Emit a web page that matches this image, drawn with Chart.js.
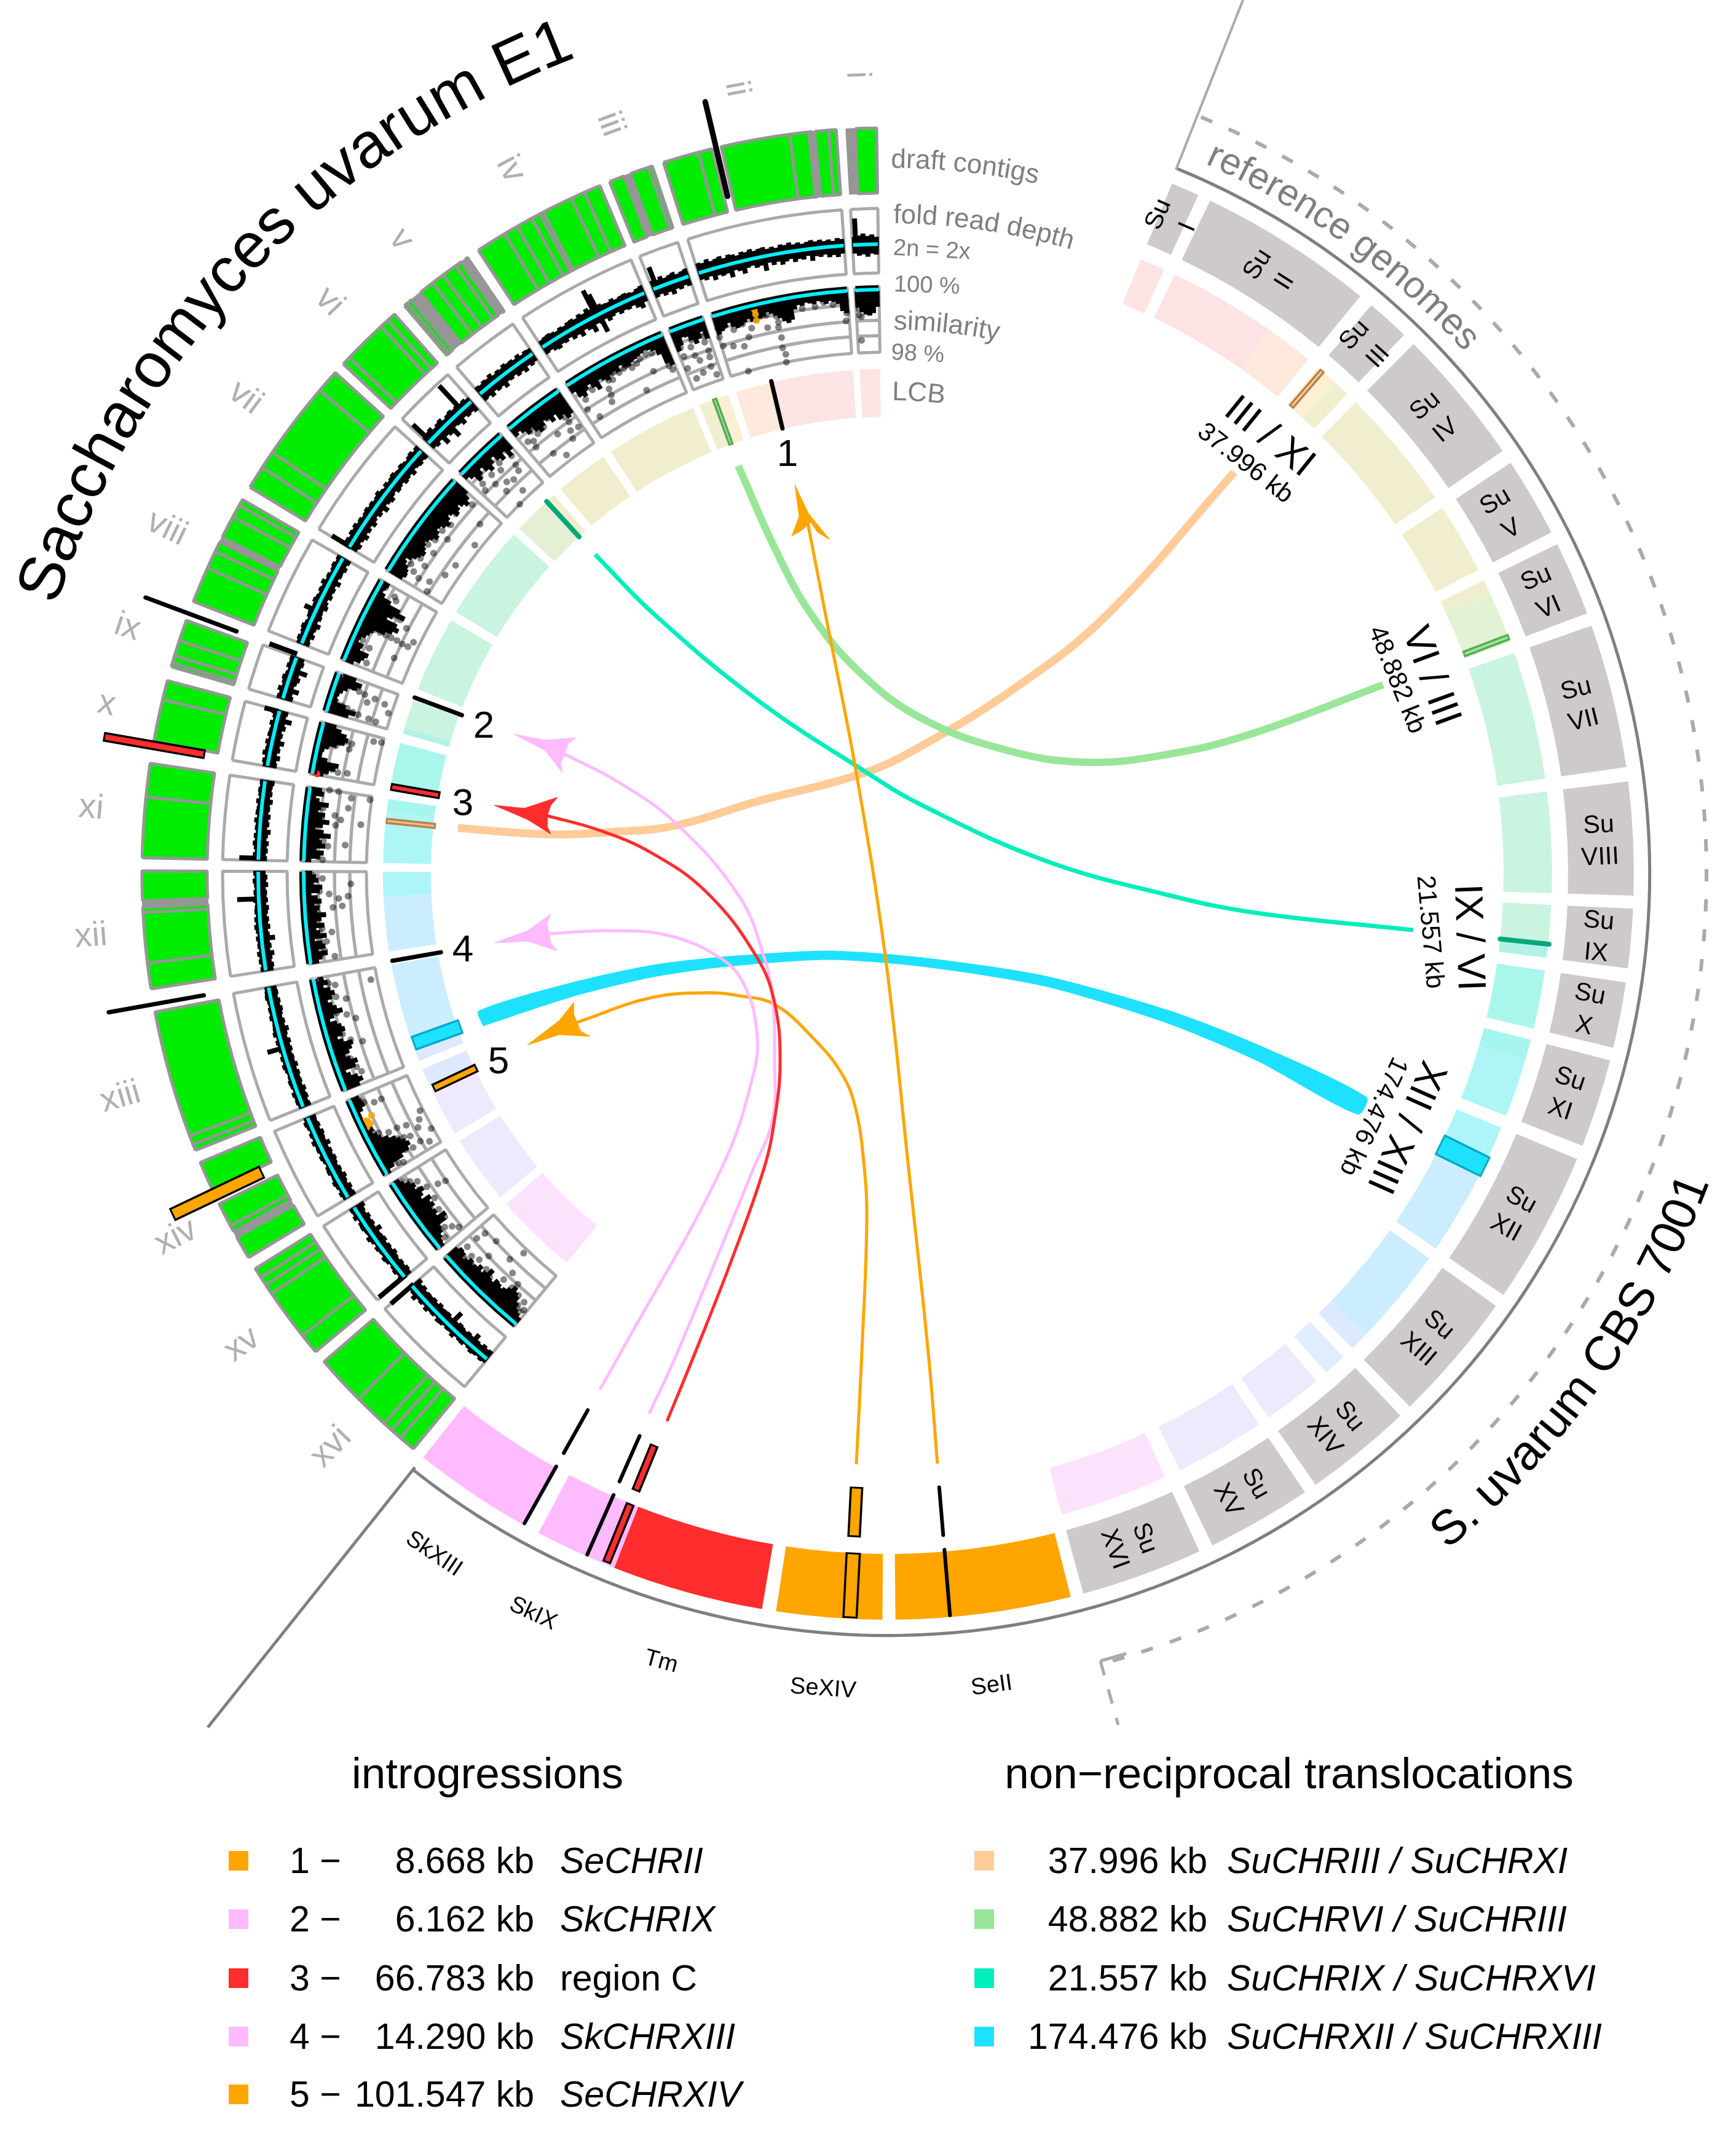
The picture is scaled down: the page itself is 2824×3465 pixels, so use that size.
<!DOCTYPE html>
<html>
<head>
<meta charset="utf-8">
<title>S. uvarum circos</title>
<script src="https://cdn.jsdelivr.net/npm/chart.js@4/dist/chart.umd.js"></script>
<style>
  html, body { margin: 0; background: #fff; }
  #page { position: relative; width: 2824px; height: 3465px; overflow: hidden; }
  canvas, svg { position: absolute; }
  svg { left: 0; top: 0; font-family: "Liberation Sans", Arial, sans-serif; }
</style>
</head>
<body>
<div id="page">
  <canvas id="left-rings" width="2670" height="2670" style="left:109px;top:86px"></canvas>
  <canvas id="right-rings" width="2670" height="2670" style="left:109px;top:86px"></canvas>
  <canvas id="marks" width="2824" height="3465" style="left:0;top:0"></canvas>
  <canvas id="track-lines" width="2670" height="2670" style="left:109px;top:86px"></canvas>
  <svg id="labels" width="2824" height="3465"></svg>
</div>
<script>
// ---- chromosomes, degrees clockwise from 12 o'clock
const leftNames = ["i","ii","iii","iv","v","vi","vii","viii","ix","x","xi","xii","xiii","xiv","xv","xvi"];
const leftFrom = [-3.2,-17.5,-21.9,-33.3,-40.4,-46.9,-58.8,-68.6,-73.9,-80.2,-88.8,-98.9,-111.8,-121,-129.9,-140.5];
const leftTo = [-0.85,-3.96,-18.4,-22.7,-34.3,-41.4,-47.8,-59.9,-69.9,-75,-81.5,-89.8,-100.4,-112.8,-122,-130.9];

const rightNames = ["I","II","III","IV","V","VI","VII","VIII","IX","X","XI","XII","XIII","XIV","XV","XVI"];
const rightFrom = [22.4,25.6,40.4,44.8,56.6,63.8,70.6,82.9,92.7,98.4,104.5,112.5,125.4,136.6,146,155.3];
const rightTo = [24.6,39.3,43.8,55.5,62.8,69.6,81.8,91.7,97.3,103.5,111.4,124.4,135.6,145,154.2,164.8];

const donorFrom = [165.8,180.4,189.7,201.5,209.2];
const donorTo = [179.4,188.6,201.5,207.9,218.5];
const donorColors = ["#ffa500","#ffa500","#ff2d2d","#ffbbff","#ffbbff"];

// draft contigs: thin dividers, wide grey blocks, white holes per chromosome
const contigCuts = [
  [],[-4.55,-6.07,-7.55,-14.7],[-18.7],[-24,-25.1,-27.5,-27.8,-28.5,-29.8,-30.9],
  [-35.4,-36.6,-37.6,-40.1],[-42.1,-42.8,-46.2],[-49.6,-55.6,-57],[-60.4,-61.4,-64.4,-65.8],
  [-71.8,-73,-73.6],[-76.5],[-84.1],[-93,-96.9],[-110.6,-111.3],[-118.2],[-122.8,-123.5,-124.3,-128.3],[-134.8,-137.5,-138.3,-139.2]
];
const contigGray = [
  [[-3.2,-2.5]],[[-5.85,-5.64]],[[-20.7,-20.2]],[],[[-34.9,-34.5],[-39.7,-38.8]],[],[],[[-63.6,-63.2]],
  [],[],[],[[-92.6,-92.1]],[],[[-119.2,-118.7]],[],[]
];
const contigWhite = [
  [],[[-13.6,-12.9]],[],[],[],[],[],[],[[-70.15,-69.9]],[[-80.2,-79.8]],[],[],[[-100.7,-100.4]],[[-116.3,-115.1]],[],[]
];

// pale synteny ring
const lcbLeft = [
  [-3.2,-0.85,"#fde4e4"],[-13.3,-3.96,"#fde4e4"],[-17.5,-13.3,"#fee9dc"],[-20,-18.4,"#fcefd2"],[-21.9,-20,"#f0efd0"],
  [-33.3,-22.7,"#f1eed0"],[-40.4,-34.3,"#f1eed0"],[-42.5,-41.4,"#f1eed0"],[-46.9,-42.5,"#e3f0d4"],[-58.8,-47.8,"#c9f4df"],
  [-68.6,-59.9,"#c9f4df"],[-73.2,-69.9,"#c9f4df"],[-73.9,-73.2,"#b0f3e6"],[-80.2,-75,"#aaf6ec"],[-83,-81.5,"#a6f5ef"],
  [-88.8,-83,"#aef5f6"],[-92.6,-89.8,"#aef5f9"],[-98.9,-92.6,"#ccedff"],[-110.7,-100.4,"#ccedff"],[-111.8,-110.7,"#dfe9fd"],
  [-115,-112.8,"#dfe9fd"],[-121,-115,"#efe9fd"],[-129.9,-122,"#efe9fd"],[-140.5,-130.9,"#fce3fd"]
];
const lcbRight = [
  [22.4,24.6,"#fde4e4"],[25.6,35.1,"#fde4e4"],[35.1,39.3,"#fee9dc"],[40.4,42.3,"#fcefd2"],[42.3,43.8,"#f0f0d0"],
  [44.8,55.5,"#f1eed0"],[56.6,62.8,"#f1eed0"],[63.8,65,"#f1eed0"],[65,69.6,"#e3f2d4"],[70.6,81.8,"#c9f4df"],
  [82.9,91.7,"#c9f4df"],[92.7,96,"#c9f4df"],[96,97.3,"#b0f3e6"],[98.4,103.5,"#aaf6ec"],[104.5,106.3,"#a6f5ef"],
  [106.3,111.4,"#aef5f6"],[112.5,117,"#aef5f9"],[117,124.4,"#ccedff"],[125.4,134,"#ccedff"],[134,135.6,"#dfe9fd"],
  [136.7,138.7,"#dfedff"],[139.8,145,"#efe9fd"],[146,153.9,"#efe9fd"],[155.3,164.8,"#fce3fd"]
];

// fold read depth, per chromosome: band above / below the 2n line (0.02x units)
const depthHi = [
  [13,15,18,14,16,12],
  [16,14,18,13,15,17,12,16,14,11,15,13,16,12,14,15,11,13,10,14,12,15,11,13,10,12,14,11,13,10,12,9,13,11],
  [14,12,16,11,13,15,10,12,14],
  [11,13,14,12,10,13,11,14,15,12,16,13,18,14,13,15,12,11,14,10,12,13,11,9,12,14],
  [13,11,14,12,16,10,13,11,15,12,13,10,14,9,12,11],
  [12,14,16,10,13,15,9,12,14,11,13,10,12,9],
  [10,12,9,13,11,14,10,12,9,11,13,10,12,9,11,14,10,8,12,9,11,13,10,9,12,10,8,11,13,9,12],
  [9,11,8,10,12,9,7,10,11,8,9,12,10,8,11,9,13,8,10,7,9,11,8,10],
  [11,9,13,8,10,12,9,7,11,9,10],
  [8,10,7,12,9,8,11,7,10,9,8,11,7,9,12],
  [7,9,6,8,10,7,9,6,8,7,10,6,9,8,7,10,6,8,9,7,8],
  [8,6,9,7,10,6,8,7,9,6,8,10,7,9,6,8,7,6,9,7,8,6,7,9,6,8],
  [7,9,8,10,6,8,9,7,6,8,10,7,9,6,8,7,9,6,10,8,7,6,9,7,8,6,7,9,8,7],
  [8,10,7,9,11,8,7,10,9,6,8,10,7,9,8,11,7,9,6,8,10,7],
  [9,7,10,8,6,9,11,7,8,10,6,9,12,7,8,10,9,6,11,8,9],
  [8,10,7,9,11,8,6,10,9,7,12,8,9,7,10,11,6,9,8,12,7,10,8,14,9,7]
];
const depthLo = [
  [14,18,16,20,15,17],
  [12,15,11,19,13,16,14,22,12,15,21,13,11,16,14,24,12,17,13,19,15,12,18,14,16,11,20,13,15,12,17,14,18,13],
  [15,12,17,14,20,13,16,12,15],
  [14,12,16,18,13,15,11,17,14,20,12,16,24,13,15,12,18,14,11,16,13,15,12,18,22,14],
  [15,13,18,12,16,14,20,13,15,12,17,14,19,12,16,13],
  [13,16,12,24,14,18,28,13,15,20,12,16,14,18],
  [14,17,12,15,19,13,16,12,18,14,11,16,13,20,12,15,18,13,11,16,14,12,17,15,13,18,12,14,16,13,15],
  [13,11,16,12,14,18,11,15,13,12,17,14,11,16,13,15,12,18,11,14,13,16,12,15],
  [16,13,22,12,15,18,14,26,13,16,14],
  [15,13,18,12,16,14,20,13,15,12,17,14,24,13,15],
  [14,12,15,13,16,12,14,18,12,15,13,16,12,14,13,17,12,15,13,14,16],
  [13,15,12,14,18,12,15,13,22,14,12,16,13,15,12,14,16,12,15,13,14,12,16,13,15,12],
  [14,12,15,13,16,12,14,13,15,12,16,13,14,12,15,13,16,12,14,18,13,15,12,14,16,13,15,12,14,13],
  [15,13,16,12,14,17,13,15,12,14,16,13,15,12,18,13,14,16,12,15,13,14],
  [14,16,13,15,12,14,17,13,15,12,16,14,13,20,12,15,13,16,12,14,18],
  [15,13,16,12,14,22,13,15,12,14,16,13,28,12,15,14,13,16,12,15,13,14,12,16,13,18]
];
// isolated spikes: angle, outer radius, inner radius
const depthSpikes = [
  [-2.9,1067,1025],[-21.5,1060,1025],[-27.6,1070,1020],[-27.3,1060,992],[-42.6,1078,1030],[-46.6,1063,1025],
  [-58.7,1058,1022],[-65.3,1044,1025],[-69.6,1073,1025],[-75.1,1049,1025],[-88.6,1055,1025],[-92.3,1059,1025],
  [-106.1,1050,1025],[-129.8,1077,1020],[-130.9,1069,1020]
];

// similarity: solid mass of overlapping points under the 100 % line, px deep per bin
const simMass = [
  [26,34,38,40,36,26],
  [30,26,22,16,24,28,26,22,18,24,26,22,20,14,18,22,28,34,38,34,18,12,14,10,12,14,10,12,16,12,14,18,30,34],
  [34,26,14,16,24,32,26,16,30],
  [14,26,30,22,16,24,32,18,22,26,20,18,22,14,20,22,18,16,14,12,10,12,16,26,44,50],
  [16,12,18,26,20,30,36,30,22,26,34,26,38,34,44,40],
  [10,16,28,22,14,24,30,22,14,24,30,20,34,26],
  [24,28,26,22,16,12,20,26,30,34,30,26,22,26,30,36,32,26,28,34,38,32,26,30,38,34,28,34,40,34,26],
  [14,24,28,32,16,18,8,10,16,20,24,42,52,60,54,34,42,60,48,28,14,8,10,12],
  [34,44,26,10,8,10,14,20,34,40,28],
  [16,24,34,38,18,8,8,10,16,28,40,44,40,30,20],
  [10,24,30,18,32,26,22,40,28,14,26,36,24,28,16,20,32,16,10,22,18],
  [12,18,28,14,26,22,10,30,20,14,28,16,24,32,18,22,14,26,20,10,24,28,14,22,18,12],
  [24,32,26,16,10,28,34,24,18,26,32,36,22,14,24,30,26,20,10,18,34,26,20,14,22,28,22,12,20,14],
  [6,16,36,50,56,52,46,40,30,20,16,10,14,8,6,4,6,6,12,18,16,14],
  [8,10,14,20,22,36,42,28,32,28,36,32,38,24,30,36,24,28,22,14,10],
  [10,14,18,26,34,38,44,36,30,26,30,32,24,26,38,28,22,30,24,20,26,20,16,24,26,20]
];

// similarity points: [angle, percent]
const simI = [[-1.3,99.85],[-1.6,99.75],[-2,99.7],[-2.4,99.65],[-2.7,99.75],[-1.8,99.55],[-2.2,99.5],[-2.6,99.55],[-2.9,99.4],[-2.9,99.2],[-2.7,99.15],[-2.8,98.4],[-1.9,99.35]];
const simII = [[-4.2,99.7],[-4.2,99.3],[-4.3,99.05],[-5.5,99.6],[-6.4,99.7],[-7.3,99.6],[-8.6,99.6],[-9.8,99.65],[-11.2,99.7],[-11.3,99.5],[-11.2,99.3],[-11.3,99.14],[-11.2,98.8],[-11.3,98.47],[-11.1,98.25],[-11.2,98],[-10.3,99.55],[-12.4,99.2],[-12.3,99.6],[-14,99.3],[-14.5,99.05],[-14.8,99.5],[-15.2,98.8],[-15.8,99.4],[-16.3,98.9],[-15.5,98],[-16.6,99.6],[-17.3,99.6],[-17.4,99.3],[-17.3,99]];
const simIII = [[-18.8,99.8],[-18.9,99.5],[-19,99.3],[-18.9,99],[-19,98.8],[-19.2,98.5],[-20.3,99.8],[-20.2,99.5],[-20.5,99.3],[-20.4,99],[-20.1,98.8],[-21.3,99.7],[-21.5,99.4],[-21.5,99.1],[-21.6,98.7],[-20.2,98.4],[-21.1,98.3],[-18.9,98.2]];
const simIV = [[-23,99.85],[-23.1,99.65],[-23.2,99.4],[-23.2,99.2],[-23.3,99],[-23.1,98.85],[-23.6,99.6],[-24.4,99.6],[-25,99.65],[-25.7,99.6],[-26.2,99.5],[-26.8,99.45],[-27.2,99.6],[-27.6,99.55],[-28.2,99.5],[-28.8,99.6],[-29.1,99.4],[-29.5,99.45],[-29.9,99.2],[-30,99],[-30.3,98.8],[-30.8,99.55],[-31.4,99.45],[-32.1,99.6],[-32.5,99.3],[-32.9,99],[-26.5,98.6],[-25,99.05],[-32.2,98.6]];
const simV = [[-34.6,99.8],[-34.8,99.6],[-35,99.4],[-35.3,99.2],[-35.2,99],[-35.6,98.75],[-35.9,98.5],[-36.5,99.7],[-36.8,99.5],[-37.2,99.6],[-37.6,99.35],[-38.1,99.5],[-38.5,99.3],[-38.9,99.5],[-39.3,99.2],[-39.5,99],[-39.8,99.3],[-37.5,98.2],[-36.9,98.9],[-34.7,98.7],[-38.5,98.5]];
const simVI = [[-41.7,99.8],[-41.9,99.55],[-42,99.3],[-42.3,99],[-43,99.6],[-43.4,99.4],[-43.8,99.2],[-44.4,99.55],[-44.8,99.3],[-45.2,99],[-45.8,99.5],[-46.1,99.3],[-46.4,99.1],[-42.5,98.8],[-43.5,98.7],[-44.2,98.8],[-44.9,98.6],[-43.6,98.25],[-44.9,98]];
const simVII = [[-48.2,99.7],[-48.3,99.4],[-48.4,99.1],[-49.8,99.8],[-49.9,99.6],[-50.2,99.3],[-50.8,99.7],[-51.1,99.5],[-51.4,99.2],[-52,99.6],[-52.4,99.3],[-52.8,99],[-53.2,99.6],[-53.6,99.3],[-54.1,99.6],[-54.4,99.4],[-54.8,99.1],[-55.5,99.6],[-56,99.35],[-56.4,99.1],[-57,99.5],[-57.5,99.3],[-57.8,99.05],[-58.3,99.6],[-58.5,98.6],[-57.5,98.7],[-56,98.4],[-54.5,98.3],[-49.4,98.5],[-51.5,98.2]];
const simVIII = [[-60.3,99.8],[-60.7,99.4],[-61,99.3],[-62.3,99.9],[-62.3,99.7],[-62.3,99.5],[-62.3,99.3],[-62.4,99.1],[-62.5,98.9],[-64.6,99.9],[-64.6,99.7],[-64.6,99.5],[-64.6,99.3],[-64.6,99.1],[-64.6,98.9],[-64.6,98.7],[-64.7,98.5],[-64.7,98.3],[-63.3,99.7],[-63.5,99.4],[-63,98.6],[-64,98.2],[-66.5,99.4],[-66,99.7],[-67.5,99.8],[-67.5,99.5],[-68,99.3],[-68.1,99.75],[-66.4,98.55]];
const simIX = [[-70.4,99.8],[-70.7,99.6],[-70.8,99.4],[-71,99.2],[-71.1,99],[-71.2,98.65],[-71.4,98.3],[-70.6,99.3],[-72.7,99.8],[-72.9,99.6],[-73,99.4],[-73.2,99.2],[-73.3,99],[-73.4,98.65],[-73.5,98.4],[-73.6,99.7],[-71.8,98.85],[-72.2,98.1]];
const simX = [[-75.5,99.75],[-75.8,99.55],[-76,99.35],[-76.3,99.15],[-76.6,99.35],[-77,99.45],[-77,99],[-77.2,99.7],[-76.4,98.95],[-75.6,98.3],[-75.5,98.05],[-79,99.8],[-79.2,99.6],[-79.4,99.4],[-79.6,99.2],[-79.5,98.9],[-79.7,99.6]];
const simXI = [[-81.8,99.7],[-81.5,99.37],[-81.5,99.08],[-82,98.65],[-81.9,98.05],[-83.1,98.7],[-84,99.1],[-84.4,98.9],[-85,99.05],[-84.7,98.25],[-87,98.7],[-83,99.7],[-84,99.7],[-84.6,99.5],[-85.4,99.7],[-86.2,99.75],[-86.7,99.4],[-87.2,99.25],[-87.8,99.7],[-88.3,99.55],[-88.6,99.4],[-83.4,99.5]];
const simXII = [[-90.2,99.7],[-90.5,99.4],[-91.3,99.7],[-91.8,99.5],[-92.1,99.2],[-92.4,98.6],[-92.6,98.9],[-93.2,99.6],[-93.5,99.1],[-93.4,98.8],[-94.1,99.55],[-94.8,99.65],[-95.6,99.5],[-96,99.2],[-96.4,99.65],[-96.9,99.4],[-97.4,99.65],[-97.8,99.5],[-98.3,99.65],[-98.5,99.2],[-91.1,98.5]];
const simXIII = [[-100.8,99.75],[-101.1,99.55],[-101.4,99.35],[-102,99.7],[-102.6,99.4],[-103,99.1],[-101.6,98.2],[-103.6,99.7],[-104.2,99.5],[-104.6,99.2],[-105.2,98.95],[-105.8,99.7],[-106.4,99.5],[-107.2,99.3],[-107.7,98.95],[-108.4,99.7],[-109,99.5],[-110,99.4],[-110.6,99.3],[-111.2,99.5],[-111.5,99.75]];
const simXIV = [[-113.2,99.7],[-113.6,99.6],[-114,99.3],[-114,99.05],[-116.7,99.75],[-117,99.6],[-117.4,99.3],[-117.4,99],[-117.6,98.7],[-117.9,99.6],[-118.2,99.4],[-118.4,99.15],[-118.6,98.95],[-118.8,98.75],[-119,99.7],[-119.3,99.5],[-119.6,99.3],[-119.8,99.1],[-120,98.85],[-120.3,99.7],[-120.6,99.5],[-120.8,99.35],[-119.8,98.55],[-120.3,98.3],[-118.4,98.4],[-116.9,98.1],[-117.7,98.25],[-119.2,98.05]];
const simXV = [[-122.4,99.7],[-122.8,99.5],[-123.2,99.3],[-123.6,99.65],[-124,99.4],[-124.2,99.15],[-124.6,98.8],[-124.8,98.55],[-124.9,99.65],[-125.4,99.4],[-125.6,99.15],[-126,99.65],[-126.4,99.45],[-126.8,99.25],[-127.2,99.65],[-127.5,99.45],[-127.8,99.25],[-128.2,99.65],[-128.6,99.45],[-129,99.25],[-129.4,99.65],[-129.5,99.1]];
const simXVI = [[-131.4,99.6],[-131.6,99.3],[-131.6,98.9],[-131.8,98.6],[-132.2,99.65],[-132.6,99.4],[-133.2,99.6],[-133.4,99.3],[-133.8,99],[-134.2,99.6],[-134.6,99.35],[-134.9,99.65],[-135.4,99.45],[-135.6,98.6],[-136,99.65],[-136.4,99.5],[-136.6,99.2],[-136.8,98.85],[-137.2,99.65],[-137.5,99.45],[-137.8,99.2],[-138,99],[-138.3,99.65],[-138.6,99.45],[-138.8,99.25],[-139.1,99.65],[-139.4,99.5],[-139.7,99.3],[-139.9,99.65],[-140.2,99.5],[-133.2,98.5],[-136.2,98.15]];
const simByChromosome = [simI,simII,simIII,simIV,simV,simVI,simVII,simVIII,simIX,simX,simXI,simXII,simXIII,simXIV,simXV,simXVI];
const simOrange = [[-13.3,99.85],[-13.3,99.7],[-13.35,99.5],[-116,99.85],[-115.8,99.7],[-115.4,99.75],[-115.1,99.55],[-115.3,99.85]];
const simPink = [[-70.1,99.95],[-100.6,99.95]];
const simRed = [[-80,99.95],[-80.1,99.85]];

// radial marks: angle, inner r, outer r, px width, fill, edge colour (null = plain)
const radialMarks = [
  [-13.3,1132,1290,9,"#000",null],[-13.3,744,823,7,"#000",null],
  [-69.6,1130,1288,7,"#000",null],[-69.6,739,821,7,"#000",null],
  [-100.1,1130,1287,7,"#000",null],[-100,738,818,7,"#000",null],
  [-80.1,1130,1292,9,"#ff2d2d","#000"],[-80.1,742,818,6,"#ff2d2d","#000"],
  [-115.5,1130,1287,16,"#ffa500","#000"],[-115.3,742,815,8,"#ffa500","#000"],
  [209.2,1105,1211,6,"#000",null],[209.2,1000,1080,6,"#000",null],
  [203.8,1105,1211,6,"#000",null],[203.8,1000,1081,6,"#000",null],
  [202.2,1110,1208,8,"#ff2d2d","#000"],[202.2,1007,1082,8,"#ff2d2d","#000"],
  [182.9,1109,1210,18,"#ffa500","#000"],[182.9,1002,1078,15,"#ffa500","#000"],
  [175.2,1104,1211,6,"#000",null],[175.2,1002,1080,6,"#000",null],
  [-84,742,818,3,"#f0c090","#b5824a"],[-20.05,745,820,2,"#99e699","#55aa55"],
  [-42.5,743,821,8,"#00a878",null],[-109.7,740,817,18,"#1ee1ff","#00a8c8"],
  [40.85,1006,1079,3,"#ffcc99","#b5824a"],[69.15,1005,1079,4,"#99e699","#55aa55"],
  [96.1,1002,1082,8,"#00a878",null],[116.15,1003,1081,30,"#1ee1ff","#00a8c8"]
];

// ribbons between the genomes
const ribbonPeach = [[745,1347],[887,1357],[1002,1353],[1099,1343],[1231,1304],[1404,1258],[1500,1213],[1650,1120],[1800,1001],[2008,768]];
const ribbonGreen = [[1201,758],[1262,895],[1320,1000],[1400,1095],[1500,1169],[1640,1221],[1768,1240],[1900,1227],[2032,1195],[2250,1114]];
const ribbonTeal = [[968,902],[1065,1000],[1231,1138],[1404,1253],[1500,1310],[1700,1400],[1900,1456],[2043,1485],[2299,1513]];
const ribbonCyan = [[782,1657],[930,1610],[1060,1580],[1174,1565],[1346,1554],[1500,1565],[1700,1596],[1900,1654],[2049,1714],[2216,1799]];
const ribbonCyanWidth = [26,23,20,17,15,15,17,21,25,32];
const ribbonOrange1 = [[1525,2381],[1510,2200],[1478,1900],[1441,1562],[1392,1252],[1343,1000],[1310,830]];
const ribbonOrange5 = [[1393,2382],[1402,2200],[1410,1989],[1406,1900],[1392,1804],[1369,1746],[1323,1689],[1260,1634],[1203,1620],[1151,1615],[1059,1623],[939,1663]];
const ribbonRed = [[1085,2312],[1131,2200],[1190,2050],[1243,1900],[1260,1821],[1269,1729],[1260,1631],[1231,1557],[1151,1453],[1059,1387],[973,1350],[890,1327]];
const ribbonPink2 = [[1056,2300],[1102,2200],[1226,1900],[1257,1821],[1260,1729],[1257,1626],[1243,1557],[1203,1459],[1099,1339],[1002,1270],[919,1227]];
const ribbonPink4 = [[976,2260],[1010,2200],[1174,1900],[1226,1746],[1231,1677],[1211,1603],[1174,1560],[1088,1522],[990,1514],[893,1519]];

const arrowRed = [[804,1310],[853,1315],[907,1297],[896,1310],[890,1327],[890,1344],[896,1357],[858,1333],[804,1310]];
const arrowPink2 = [[835,1194],[887,1204],[937,1200],[924,1210],[919,1227],[912,1241],[915,1257],[887,1221],[835,1194]];
const arrowPink4 = [[804,1534],[858,1514],[896,1487],[890,1502],[893,1519],[896,1534],[907,1547],[858,1531],[804,1534]];
const arrowOrange5 = [[858,1700],[910,1660],[933,1631],[933,1649],[939,1663],[944,1677],[960,1686],[910,1683],[858,1700]];
const arrowOrange1 = [[1293,789],[1315,835],[1350,878],[1330,866],[1319,850],[1305,862],[1288,872],[1300,840],[1293,789]];

// legend
const legendLeftColors = ["#ffa500","#ffbbff","#ff2d2d","#ffbbff","#ffa500"];
const legendLeftNum = ["1 \u2212","2 \u2212","3 \u2212","4 \u2212","5 \u2212"];
const legendLeftKb = ["8.668 kb","6.162 kb","66.783 kb","14.290 kb","101.547 kb"];
const legendLeftName = ["SeCHRII","SkCHRIX","region C","SkCHRXIII","SeCHRXIV"];
const legendRightColors = ["#ffcc99","#99e699","#00eebb","#1ee1ff"];
const legendRightKb = ["37.996 kb","48.882 kb","21.557 kb","174.476 kb"];
const legendRightName = ["SuCHRIII / SuCHRXI","SuCHRVI / SuCHRIII","SuCHRIX / SuCHRXVI","SuCHRXII / SuCHRXIII"];
const legendRowY = [3027,3122,3218,3313,3407];

// ---- geometry helpers
const cx = 1444, cy = 1421;
const DEG = Math.PI / 180;
const polar = (deg, r) => ({ x: cx + r * Math.sin(deg * DEG), y: cy - r * Math.cos(deg * DEG) });
const simRadius = pct => 950 - (100 - pct) * 51;
const CLEAR = "rgba(0,0,0,0)";

// turn a list of spans into one doughnut dataset, gaps filled with clear slices
function ring(spans, weight) {
  const list = spans.map(s => {
    const shift = s.from < 0 ? 360 : 0;
    return { ...s, from: s.from + shift, to: s.to + shift };
  }).sort((a, b) => a.from - b.from);
  const data = [], backgroundColor = [], borderColor = [], borderWidth = [];
  const push = (w, bg, edge, bw) => { data.push(w); backgroundColor.push(bg); borderColor.push(edge); borderWidth.push(bw); };
  let at = 0;
  list.forEach(s => {
    if (s.from > at) push(s.from - at, CLEAR, CLEAR, 0);
    push(s.to - s.from, s.bg || CLEAR, s.edge || CLEAR, s.bw || 0);
    at = s.to;
  });
  if (at < 360) push(360 - at, CLEAR, CLEAR, 0);
  return { data, backgroundColor, borderColor, borderWidth, borderAlign: "center", weight };
}
const spacer = weight => ({ data: [1], backgroundColor: [CLEAR], borderColor: [CLEAR], borderWidth: [0], weight });

function contigSpans(i) {
  const GREEN = "#00ec00", GRAY = "#969696";
  const blocks = [];
  contigGray[i].forEach(b => blocks.push({ from: b[0], to: b[1], bg: GRAY, edge: GRAY, bw: 2 }));
  contigWhite[i].forEach(b => blocks.push({ from: b[0], to: b[1] }));
  const stops = [leftFrom[i], leftTo[i], ...contigCuts[i]];
  blocks.forEach(b => stops.push(b.from, b.to));
  stops.sort((a, b) => a - b);
  const out = [...blocks];
  for (let k = 0; k < stops.length - 1; k++) {
    const a = stops[k], b = stops[k + 1];
    if (b - a < 0.01) continue;
    const inBlock = blocks.some(w => a >= w.from - 0.001 && b <= w.to + 0.001);
    if (!inBlock) out.push({ from: a, to: b, bg: GREEN, edge: GRAY, bw: 5 });
  }
  return out;
}
const boxSpans = () => leftFrom.map((f, i) => ({ from: f, to: leftTo[i], edge: "#aaaaaa", bw: 5 }));
const lcbSpans = rows => rows.map(r => ({ from: r[0], to: r[1], bg: r[2] }));
const plainSpans = (bg) => leftFrom.map((f, i) => ({ from: f + 0.05, to: leftTo[i] - 0.05, bg }));

function doughnut(id, datasets, cutout) {
  return new Chart(document.getElementById(id), {
    type: "doughnut",
    data: { datasets },
    options: {
      responsive: false,
      animation: false,
      devicePixelRatio: 1,
      events: [],
      cutout,
      layout: { padding: 0 },
      plugins: { legend: { display: false }, tooltip: { enabled: false } }
    }
  });
}

// ---- left genome rings
const allContigs = [];
leftFrom.forEach((f, i) => allContigs.push(...contigSpans(i)));
doughnut("left-rings", [
  spacer(122),
  ring(allContigs, 106),
  spacer(25),
  ring(boxSpans(), 105),
  spacer(22),
  ring(boxSpans(), 28), ring(boxSpans(), 27), ring(boxSpans(), 25), ring(boxSpans(), 27),
  spacer(27),
  ring(lcbSpans(lcbLeft), 78)
], 743);

// ---- reference rings on the right
const refSpans = rightFrom.map((f, i) => ({ from: f, to: rightTo[i], bg: "#cfcaca" }));
donorFrom.forEach((f, i) => refSpans.push({ from: f, to: donorTo[i], bg: donorColors[i] }));
const dashes = [];
for (let a = 22.5; a < 164.5; a += 2.1) dashes.push({ from: a, to: a + 0.85, bg: "#aaaaaa" });
doughnut("right-rings", [
  ring(dashes, 6),
  spacer(86),
  ring([{ from: 22.3, to: 218.5, bg: "#7f7f7f" }], 5),
  spacer(23),
  ring(refSpans, 106),
  spacer(26),
  ring(lcbSpans(lcbRight), 78)
], 1002);

// ---- 2n / 100 % guide lines above the marks
doughnut("track-lines", [
  spacer(308),
  ring(plainSpans("#00eeff"), 6),
  spacer(64),
  ring(plainSpans("#000"), 4),
  ring(plainSpans("#00eeff"), 6),
  ring(plainSpans("#000"), 4)
], 943);

// ---- scatter layer: read depth, similarity, ribbons, marks
const depthLine = [];
depthHi.forEach((hi, i) => {
  const step = (leftTo[i] - leftFrom[i]) / hi.length;
  hi.forEach((h, k) => {
    const a = leftFrom[i] + (k + 0.5) * step;
    depthLine.push(polar(a, 1024 + h), polar(a, 1024 - depthLo[i][k]), { x: NaN, y: NaN });
  });
});
depthSpikes.forEach(s => depthLine.push(polar(s[0], s[1]), polar(s[0], s[2]), { x: NaN, y: NaN }));

const massLine = [];
simMass.forEach((row, i) => {
  const step = (leftTo[i] - leftFrom[i]) / row.length;
  row.forEach((d, k) => {
    const a = leftFrom[i] + (k + 0.5) * step;
    massLine.push(polar(a, 948), polar(a, 948 - d), { x: NaN, y: NaN });
  });
});

const toPts = list => list.map(p => ({ x: p[0], y: p[1] }));
const line = (pts, color, width, extra) => ({
  data: toPts(pts), showLine: true, borderColor: color, borderWidth: width, pointRadius: 0,
  tension: 0.4, fill: false, borderCapStyle: "butt", ...extra
});
const arrow = (pts, color) => ({
  data: toPts(pts), showLine: true, borderColor: color, borderWidth: 1, backgroundColor: color,
  pointRadius: 0, tension: 0, fill: "shape"
});
const simDots = (list, color) => ({
  data: list.map(p => polar(p[0], simRadius(p[1]))), showLine: false, pointRadius: 5.5, borderWidth: 0,
  backgroundColor: color
});

// tapered ribbon as a closed outline around its centre line
function taper(center, widths) {
  const upper = [], lower = [];
  center.forEach((p, i) => {
    const a = center[Math.max(i - 1, 0)], b = center[Math.min(i + 1, center.length - 1)];
    const len = Math.hypot(b[0] - a[0], b[1] - a[1]);
    const nx = -(b[1] - a[1]) / len, ny = (b[0] - a[0]) / len;
    upper.push([p[0] + nx * widths[i] / 2, p[1] + ny * widths[i] / 2]);
    lower.unshift([p[0] - nx * widths[i] / 2, p[1] - ny * widths[i] / 2]);
  });
  return [...upper, ...lower, upper[0]];
}

const markSets = [];
radialMarks.forEach(m => {
  if (m[5]) {
    markSets.push({ data: [polar(m[0], m[1] - 3), polar(m[0], m[2] + 3)], showLine: true, borderColor: m[5], borderWidth: m[3] + 7, pointRadius: 0, borderCapStyle: "butt" });
  }
  markSets.push({ data: [polar(m[0], m[1]), polar(m[0], m[2])], showLine: true, borderColor: m[4], borderWidth: m[3], pointRadius: 0, borderCapStyle: m[5] ? "butt" : "round" });
});

const legendPts = legendLeftColors.map((c, i) => ({ x: 388, y: legendRowY[i] }));
const legendPts2 = legendRightColors.map((c, i) => ({ x: 1601, y: legendRowY[i] }));

// listed bottom to top, Chart.js paints the first dataset last
const markLayers = [
  { data: depthLine, showLine: true, spanGaps: false, borderColor: "#000", borderWidth: 8, pointRadius: 0, borderCapStyle: "butt" },
  { data: massLine, showLine: true, spanGaps: false, borderColor: "#000", borderWidth: 8, pointRadius: 0, borderCapStyle: "butt" },
  ...simByChromosome.map(s => simDots(s, "rgba(0,0,0,0.48)")),
  simDots(simOrange, "rgba(255,165,0,0.9)"),
  simDots(simPink, "#ffbbff"),
  simDots(simRed, "#ff2d2d"),
  line(ribbonPeach, "#ffcc99", 13),
  line(ribbonGreen, "#99e699", 12),
  line(ribbonTeal, "#00eebb", 7),
  { data: toPts(taper(ribbonCyan, ribbonCyanWidth)), showLine: true, borderWidth: 0, borderColor: "#1ee1ff", backgroundColor: "#1ee1ff", pointRadius: 0, tension: 0.25, fill: "shape" },
  line(ribbonOrange1, "#ffa500", 5),
  line(ribbonOrange5, "#ffa500", 5),
  line(ribbonPink4, "#ffbbff", 5),
  line(ribbonPink2, "#ffbbff", 5),
  line(ribbonRed, "#ff2d2d", 5),
  arrow(arrowOrange1, "#ffa500"),
  arrow(arrowOrange5, "#ffa500"),
  arrow(arrowPink2, "#ffbbff"),
  arrow(arrowPink4, "#ffbbff"),
  arrow(arrowRed, "#ff2d2d"),
  ...markSets,
  line([[1913, 276], [2022, 0]], "#aaaaaa", 4, { tension: 0 }),
  line([[675, 2387], [338, 2810]], "#7f7f7f", 5, { tension: 0 }),
  line([[1790, 2702], [1819, 2806]], "#aaaaaa", 5, { tension: 0, borderDash: [24, 24] }),
  line([[1790, 2702], [1832, 2690]], "#aaaaaa", 5, { tension: 0 }),
  { data: legendPts, showLine: false, pointStyle: "rect", pointRadius: 22.6, borderWidth: 0, backgroundColor: legendLeftColors },
  { data: legendPts2, showLine: false, pointStyle: "rect", pointRadius: 22.6, borderWidth: 0, backgroundColor: legendRightColors }
];

new Chart(document.getElementById("marks"), {
  type: "scatter",
  data: { datasets: markLayers.reverse() },
  options: {
    responsive: false,
    animation: false,
    devicePixelRatio: 1,
    events: [],
    layout: { padding: 0, autoPadding: false },
    scales: {
      x: { type: "linear", min: 0, max: 2824, display: false },
      y: { type: "linear", min: 0, max: 3465, reverse: true, display: false }
    },
    plugins: { legend: { display: false }, tooltip: { enabled: false } }
  }
});

// ---- text layer
const svg = document.getElementById("labels");
const NS = "http://www.w3.org/2000/svg";
function text(str, x, y, size, color, rot, opts) {
  const o = opts || {};
  const t = document.createElementNS(NS, "text");
  t.setAttribute("x", 0); t.setAttribute("y", 0);
  t.setAttribute("transform", `translate(${x},${y}) rotate(${rot || 0})`);
  t.setAttribute("font-size", size);
  t.setAttribute("fill", color);
  t.setAttribute("text-anchor", o.anchor || "middle");
  t.setAttribute("dominant-baseline", "central");
  if (o.italic) t.setAttribute("font-style", "italic");
  t.textContent = str;
  svg.appendChild(t);
}
let pathId = 0;
function arcText(str, r, a1, a2, size, color) {
  const id = "arc" + (pathId++);
  const p1 = polar(a1, r), p2 = polar(a2, r);
  const path = document.createElementNS(NS, "path");
  path.setAttribute("id", id);
  path.setAttribute("fill", "none");
  path.setAttribute("d", `M${p1.x} ${p1.y} A${r} ${r} 0 0 ${a2 > a1 ? 1 : 0} ${p2.x} ${p2.y}`);
  svg.appendChild(path);
  const t = document.createElementNS(NS, "text");
  t.setAttribute("font-size", size);
  t.setAttribute("fill", color);
  t.setAttribute("text-anchor", "middle");
  const tp = document.createElementNS(NS, "textPath");
  tp.setAttribute("href", "#" + id);
  tp.setAttribute("startOffset", "50%");
  tp.textContent = str;
  t.appendChild(tp);
  svg.appendChild(t);
}

leftNames.forEach((n, i) => {
  const mid = (leftFrom[i] + leftTo[i]) / 2;
  const p = polar(mid, 1300);
  text(n, p.x, p.y, 56, "#b0b0b0", mid + 90);
});
rightNames.forEach((n, i) => {
  const mid = (rightFrom[i] + rightTo[i]) / 2;
  const rot = mid - 90;
  const p = polar(mid, 1159);
  const nx = -Math.sin(rot * DEG), ny = Math.cos(rot * DEG);
  text("Su", p.x - nx * 26, p.y - ny * 26, 41, "#000", rot);
  text(n, p.x + nx * 26, p.y + ny * 26, 41, "#000", rot);
});
const donorLabelAngle = [172, 184, 195, 205, 214];
const donorLabelPos = [[1613, 2740], [1339, 2745], [1076, 2701], [868, 2623], [707, 2526]];
["SeII", "SeXIV", "Tm", "SkIX", "SkXIII"].forEach((n, i) => {
  text(n, donorLabelPos[i][0], donorLabelPos[i][1], 38, "#000", donorLabelAngle[i] - 180);
});

arcText("Saccharomyces uvarum E1", 1421, -73, -20, 104, "#000");
arcText("S. uvarum CBS 7001", 1428, 143, 108, 79, "#000");
arcText("reference genomes", 1265, 23, 49, 61, "#7f7f7f");
arcText("draft contigs", 1148, -0.5, 13, 44, "#7f7f7f");
arcText("fold read depth", 1058, -1.3, 18.2, 44, "#7f7f7f");
arcText("similarity", 885, -1.1, 13.4, 44, "#7f7f7f");
arcText("LCB", 770, -0.3, 7.7, 44, "#7f7f7f");
[["2n = 2x", 1516, 405, 38, 3], ["100 %", 1508, 463, 38, 2], ["98 %", 1493, 574, 38, 3]].forEach(r => {
  text(r[0], r[1], r[2], r[3], "#7f7f7f", r[4]);
});

const kbLabels = [
  ["III / XI", 2067, 708, 64, 39], ["37.996 kb", 2027, 752, 42, 38],
  ["VI / III", 2331, 1099, 64, 70], ["48.882 kb", 2274, 1105, 42, 68],
  ["IX / VI", 2392, 1525, 64, 88], ["21.557 kb", 2328, 1516, 42, 85],
  ["XII / XIII", 2290, 1835, 64, 114], ["174.476 kb", 2236, 1817, 42, 115]
];
kbLabels.forEach(k => text(k[0], k[1], k[2], k[3], "#000", k[4]));

const numberLabels = [["1", 1281, 736], ["2", 787, 1178], ["3", 753, 1304], ["4", 753, 1542], ["5", 811, 1724]];
numberLabels.forEach(n => text(n[0], n[1], n[2], 62, "#000", 0));

text("introgressions", 793, 2884, 71, "#000", 0);
text("non\u2212reciprocal translocations", 2097, 2884, 71, "#000", 0);
legendLeftKb.forEach((kb, i) => {
  text(legendLeftNum[i], 471, legendRowY[i], 59, "#000", 0, { anchor: "start" });
  text(kb, 869, legendRowY[i], 59, "#000", 0, { anchor: "end" });
  text(legendLeftName[i], 911, legendRowY[i], 59, "#000", 0, { anchor: "start", italic: i !== 2 });
});
legendRightKb.forEach((kb, i) => {
  text(kb, 1964, legendRowY[i], 59, "#000", 0, { anchor: "end" });
  text(legendRightName[i], 1996, legendRowY[i], 59, "#000", 0, { anchor: "start", italic: true });
});
</script>
</body>
</html>
